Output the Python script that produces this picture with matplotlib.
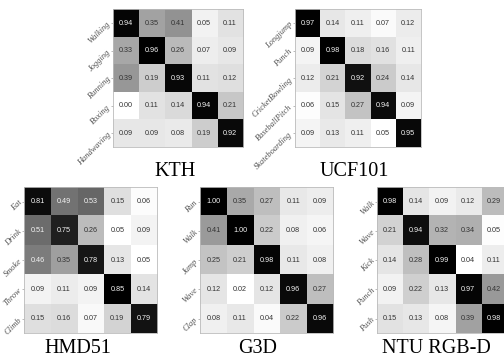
import numpy as np
import matplotlib
matplotlib.use("Agg")
import matplotlib.pyplot as plt

# confusion matrices
kth_labels = ['Walking', 'Jogging', 'Running', 'Boxing', 'Handwaving']
kth_vals = [[0.94, 0.35, 0.41, 0.05, 0.11],
            [0.33, 0.96, 0.26, 0.07, 0.09],
            [0.39, 0.19, 0.93, 0.11, 0.12],
            [0.00, 0.11, 0.14, 0.94, 0.21],
            [0.09, 0.09, 0.08, 0.19, 0.92]]

ucf_labels = ['Longjump', 'Punch', 'CricketBowling', 'BaseballPitch', 'Skateboarding']
ucf_vals = [[0.97, 0.14, 0.11, 0.07, 0.12],
            [0.09, 0.98, 0.18, 0.16, 0.11],
            [0.12, 0.21, 0.92, 0.24, 0.14],
            [0.06, 0.15, 0.27, 0.94, 0.09],
            [0.09, 0.13, 0.11, 0.05, 0.95]]

hmd_labels = ['Eat', 'Drink', 'Smoke', 'Throw', 'Climb']
hmd_vals = [[0.81, 0.49, 0.53, 0.15, 0.06],
            [0.51, 0.75, 0.26, 0.05, 0.09],
            [0.46, 0.35, 0.78, 0.13, 0.05],
            [0.09, 0.11, 0.09, 0.85, 0.14],
            [0.15, 0.16, 0.07, 0.19, 0.79]]

g3d_labels = ['Run', 'Walk', 'Jump', 'Wave', 'Clap']
g3d_vals = [[1.00, 0.35, 0.27, 0.11, 0.09],
            [0.41, 1.00, 0.22, 0.08, 0.06],
            [0.25, 0.21, 0.98, 0.11, 0.08],
            [0.12, 0.02, 0.12, 0.96, 0.27],
            [0.08, 0.11, 0.04, 0.22, 0.96]]

ntu_labels = ['Walk', 'Wave', 'Kick', 'Punch', 'Push']
ntu_vals = [[0.98, 0.14, 0.09, 0.12, 0.29],
            [0.21, 0.94, 0.32, 0.34, 0.05],
            [0.14, 0.28, 0.99, 0.04, 0.11],
            [0.09, 0.22, 0.13, 0.97, 0.42],
            [0.15, 0.13, 0.08, 0.39, 0.98]]

fig = plt.figure(figsize=(5.04, 3.59), dpi=100)

# (left, bottom, width, height), title x, title y
panels = [
    ('KTH', kth_labels, kth_vals, [0.224, 0.590, 0.258, 0.384], 0.348, 0.521),
    ('UCF101', ucf_labels, ucf_vals, [0.585, 0.590, 0.250, 0.384], 0.703, 0.521),
    ('HMD51', hmd_labels, hmd_vals, [0.048, 0.072, 0.264, 0.407], 0.155, 0.028),
    ('G3D', g3d_labels, g3d_vals, [0.397, 0.072, 0.264, 0.407], 0.512, 0.028),
    ('NTU RGB-D', ntu_labels, ntu_vals, [0.748, 0.072, 0.258, 0.407], 0.865, 0.028),
]

for name, labels, vals, rect, tx, ty in panels:
    m = np.array(vals)
    ax = fig.add_axes(rect)
    lo, hi = m.min(), m.max()
    ax.imshow(m, cmap='gray_r', vmin=lo, vmax=hi, aspect='auto')
    for i in range(m.shape[0]):
        for j in range(m.shape[1]):
            norm = (m[i, j] - lo) / (hi - lo)
            col = '#f4f4f4' if norm > 0.45 else '#333333'
            ax.text(j, i, '%.2f' % m[i, j], ha='center', va='center',
                    fontsize=5.2, color=col, family='Liberation Sans')
    ax.set_xticks([])
    ax.set_yticks(range(len(labels)))
    ax.set_yticklabels(labels, rotation=45, ha='right', va='center',
                       rotation_mode='anchor', fontsize=6, style='italic',
                       family='Liberation Serif', color='#505050')
    ax.tick_params(axis='y', length=1.5, width=0.4, color='#888888', pad=1)
    for s in ax.spines.values():
        s.set_color('#bbbbbb')
        s.set_linewidth(0.6)
    fig.text(tx, ty, name, ha='center', va='center', fontsize=14.5,
             family='Liberation Serif')

fig.savefig('out.png', dpi=100)
